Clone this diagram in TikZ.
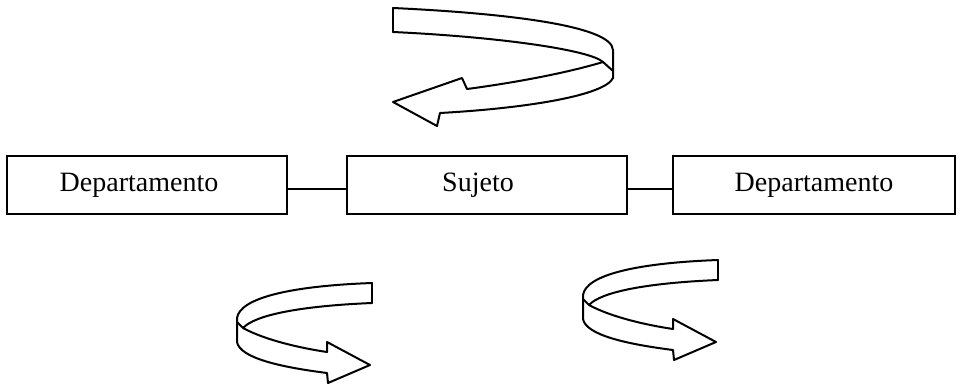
\documentclass[tikz,border=0pt]{standalone}
\usepackage{fontspec}
\setmainfont{Liberation Serif}
\begin{document}
\begin{tikzpicture}[x=1pt,y=-1pt,
  boxnode/.style={draw,line width=1.8pt,minimum height=58pt,inner sep=0pt},
  label text/.style={inner sep=0pt,font=\fontsize{28}{31}\selectfont},
  ribbon/.style={line width=2pt,line join=round,line cap=round},
  link/.style={line width=1.8pt}]
\useasboundingbox (0,0) rectangle (960,385);
% boxes
\node[boxnode,minimum width=280pt] (d1) at (147,185) {};
\node[boxnode,minimum width=280pt] (s) at (487,185) {};
\node[boxnode,minimum width=282pt] (d2) at (814,185) {};
\node[label text] (t1) at ([xshift=-8pt]d1.center) {Departamento};
\node[label text] (t2) at ([xshift=-9pt]s.center) {Sujeto};
\node[label text] (t3) at ([xshift=0pt]d2.center) {Departamento};
\draw[link] ([yshift=-4pt]d1.east) -- ([yshift=-4pt]d1.east -| s.west);
\draw[link] ([yshift=-4pt]s.east) -- ([yshift=-4pt]s.east -| d2.west);
% top ribbon arrow
\draw[ribbon] (393,8) -- (393,32);
\draw[ribbon] (393,8) .. controls (500,13) and (612,25) .. (613,50) -- (613,78);
\draw[ribbon] (393,32) .. controls (500,37) and (590,50) .. (603,62) -- (613,71);
\draw[ribbon] (603,62) .. controls (570,72) and (520,82) .. (467,89)
  -- (462,78) -- (393,102) -- (437,126) -- (440,113)
  .. controls (530,108) and (605,95) .. (613,78);
% bottom ribbon arrows
\foreach \dx/\dy in {0/0, 346/-23}{
\begin{scope}[shift={(\dx,\dy)}]
\draw[ribbon] (372,283) -- (372,303);
\draw[ribbon] (372,283) .. controls (290,286) and (240,298) .. (237,318) -- (237,342);
\draw[ribbon] (372,303) .. controls (300,306) and (255,315) .. (243,328) -- (237,322);
\draw[ribbon] (243,328) .. controls (265,340) and (300,348) .. (327,352)
  -- (327,342) -- (370,365) -- (328,383) -- (327,373)
  .. controls (280,367) and (240,358) .. (237,342);
\end{scope}}
\end{tikzpicture}
\end{document}
